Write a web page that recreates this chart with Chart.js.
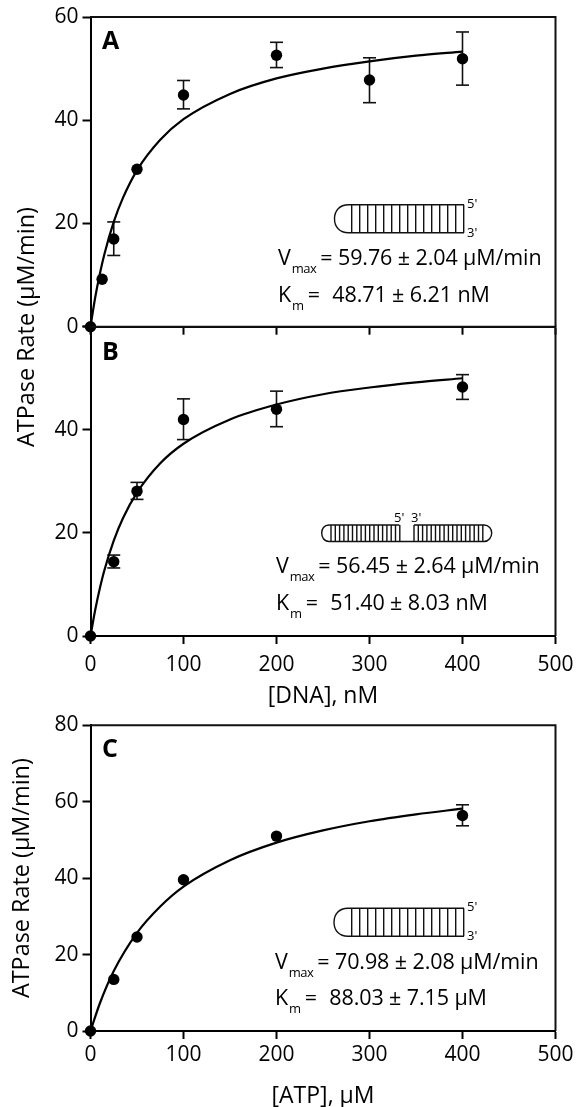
<!DOCTYPE html>
<html>
<head>
<meta charset="utf-8">
<title>ATPase rate</title>
<script src="https://cdn.jsdelivr.net/npm/chart.js@4"></script>
<style>
  html, body { margin: 0; padding: 0; background: #fff; }
  #page { position: relative; width: 577px; height: 1107px; overflow: hidden; font-family: "Open Sans", sans-serif; color: #000; }
  canvas { position: absolute; left: 0; }
  .note, .letter, .end, .ylabel { position: absolute; white-space: nowrap; }
  .note { font-size: 21.5px; line-height: 24px; letter-spacing: -0.1px; }
  .note .sub { font-size: 13px; position: relative; top: 8px; letter-spacing: -0.5px; margin: 0 4px 0 1px; }
  .note .gap { display: inline-block; width: 7px; }
  .letter { font-size: 25px; font-weight: 700; line-height: 30px; }
  .end { font-size: 13px; line-height: 16px; }
  .ylabel { font-size: 23.4px; line-height: 28px; transform: translate(-50%, -50%) rotate(-90deg); }
  svg { position: absolute; left: 0; top: 0; }
</style>
</head>
<body>
<div id="page">
  <canvas id="panelA" width="582" height="345" style="top:0"></canvas>
  <canvas id="panelB" width="582" height="410" style="top:300px"></canvas>
  <canvas id="panelC" width="582" height="410" style="top:700px"></canvas>
  <svg id="hairpins" width="577" height="1107"></svg>

  <div class="ylabel" style="left:25px;top:327px">ATPase Rate (μM/min)</div>

  <div class="letter" style="left:102px;top:24px">A</div>
  <div class="letter" style="left:102px;top:335px">B</div>
  <div class="letter" style="left:102px;top:732px">C</div>

  <div class="end" style="left:467px;top:195px">5'</div>
  <div class="end" style="left:467px;top:224px">3'</div>
  <div class="end" style="left:394px;top:509px">5'&nbsp;&nbsp;3'</div>
  <div class="end" style="left:467px;top:898px">5'</div>
  <div class="end" style="left:467px;top:927px">3'</div>

  <div class="note" style="left:278px;top:245px">V<span class="sub">max</span>= 59.76 ± 2.04 μM/min</div>
  <div class="note" style="left:278px;top:282px">K<span class="sub">m</span>=<span class="gap"></span>&nbsp;48.71 ± 6.21 nM</div>
  <div class="note" style="left:276px;top:553px">V<span class="sub">max</span>= 56.45 ± 2.64 μM/min</div>
  <div class="note" style="left:276px;top:590px">K<span class="sub">m</span>=<span class="gap"></span>&nbsp;51.40 ± 8.03 nM</div>
  <div class="note" style="left:275px;top:949px">V<span class="sub">max</span>= 70.98 ± 2.08 μM/min</div>
  <div class="note" style="left:275px;top:985px">K<span class="sub">m</span>=<span class="gap"></span>&nbsp;88.03 ± 7.15 μM</div>
</div>

<script>
const xTicks = [0, 100, 200, 300, 400, 500]

// panel A, DNA hairpin
const aDoses = [0, 12.5, 25, 50, 100, 200, 300, 400]
const aRates = [0, 9.2, 17.0, 30.5, 44.9, 52.6, 47.8, 51.9]
const aLow = [null, null, 13.8, null, 42.2, 50.2, 43.4, 46.8]
const aHigh = [null, null, 20.3, null, 47.7, 55.1, 52.1, 57.1]
const aCurveX = [0, 5, 10, 15, 25, 35, 50, 75, 100, 150, 200, 250, 300, 350, 400]
const aCurveY = [0, 5.6, 10.2, 14.1, 20.3, 25.0, 30.3, 36.2, 40.2, 45.1, 48.1, 50.0, 51.4, 52.5, 53.3]

// panel B, nicked DNA
const bDoses = [0, 25, 50, 100, 200, 400]
const bRates = [0, 14.4, 28.1, 42.0, 44.0, 48.3]
const bLow = [null, 13.2, 26.5, 38.1, 40.6, 45.9]
const bHigh = [null, 15.7, 29.8, 46.0, 47.5, 50.7]
const bCurveX = [0, 5, 10, 15, 25, 35, 50, 75, 100, 150, 200, 250, 300, 350, 400]
const bCurveY = [0, 5.0, 9.2, 12.8, 18.5, 22.9, 27.8, 33.5, 37.3, 42.0, 44.9, 46.9, 48.2, 49.2, 50.0]

// panel C, ATP
const cDoses = [0, 25, 50, 100, 200, 400]
const cRates = [0, 13.5, 24.6, 39.6, 51.0, 56.4]
const cLow = [null, null, null, null, null, 53.7]
const cHigh = [null, null, null, null, null, 59.2]
const cCurveX = [0, 10, 25, 50, 75, 100, 150, 200, 250, 300, 350, 400]
const cCurveY = [0, 7.2, 15.7, 25.7, 32.6, 37.8, 44.7, 49.3, 52.5, 54.9, 56.7, 58.2]

Chart.defaults.font.family = '"Open Sans", sans-serif'
Chart.defaults.color = '#000'

const frame = {
  id: 'frame',
  afterDraw(chart) {
    const { ctx, chartArea: a } = chart
    ctx.save()
    ctx.strokeStyle = '#111'
    ctx.lineWidth = 2
    ctx.beginPath()
    ctx.moveTo(a.left, a.top)
    ctx.lineTo(a.right, a.top)
    ctx.lineTo(a.right, a.bottom)
    ctx.stroke()
    ctx.restore()
  }
}

const toPoints = (xs, ys) => xs.map((x, i) => ({ x, y: ys[i] }))

// pairs of low/high with a null between them so the line breaks
const errorPoints = (xs, low, high) => {
  const out = []
  xs.forEach((x, i) => {
    if (low[i] === null) return
    out.push({ x, y: low[i] }, { x, y: high[i] }, { x, y: null })
  })
  return out
}

const makePanel = (id, p) => new Chart(document.getElementById(id), {
  type: 'line',
  plugins: [frame],
  data: {
    datasets: [
      {
        data: toPoints(p.doses, p.rates),
        showLine: false,
        pointRadius: 5.7,
        pointBackgroundColor: '#000',
        pointBorderWidth: 0,
        clip: false
      },
      {
        data: toPoints(p.curveX, p.curveY),
        borderColor: '#000',
        borderWidth: 2.2,
        pointRadius: 0,
        cubicInterpolationMode: 'monotone',
        clip: false
      },
      {
        data: errorPoints(p.doses, p.low, p.high),
        borderColor: '#111',
        borderWidth: 1.6,
        spanGaps: false,
        pointStyle: 'line',
        pointRadius: 6.5,
        pointBorderColor: '#111',
        pointBorderWidth: 1.6,
        clip: false
      }
    ]
  },
  options: {
    responsive: false,
    animation: false,
    // canvas is a bit wider than the page so the "500" label never squeezes the plot
    layout: { padding: { top: p.top, left: 0, right: 26.5, bottom: 0 } },
    plugins: { legend: { display: false }, tooltip: { enabled: false } },
    scales: {
      x: {
        type: 'linear',
        min: 0,
        max: 500,
        afterBuildTicks: scale => { scale.ticks = xTicks.map(value => ({ value })) },
        afterFit: scale => { scale.height = p.xHeight },
        border: { color: '#000', width: 2 },
        grid: { drawOnChartArea: false, tickLength: 8, tickWidth: 2, tickColor: '#000' },
        ticks: {
          font: { size: 21 },
          padding: p.xPad || 0,
          maxRotation: 0,
          callback: v => (p.xTitle ? v : '')
        },
        title: {
          display: !!p.xTitle,
          text: p.xTitle,
          font: { size: 23 },
          padding: 0
        }
      },
      y: {
        min: 0,
        max: p.yMax,
        afterFit: scale => { scale.width = 90.5 },
        border: { color: '#000', width: 2 },
        grid: { drawOnChartArea: false, tickLength: 8, tickWidth: 2, tickColor: '#000' },
        ticks: {
          stepSize: 20,
          font: { size: 21 },
          padding: 4,
          callback: v => (p.hideTop && v === p.yMax ? '' : v)
        },
        title: {
          display: !!p.yTitle,
          text: p.yTitle,
          font: { size: 23.4 },
          padding: { top: 8, bottom: 0 }
        }
      }
    }
  }
})

makePanel('panelA', { doses: aDoses, rates: aRates, low: aLow, high: aHigh, curveX: aCurveX, curveY: aCurveY, yMax: 60, top: 17, xHeight: 18.3 })
makePanel('panelB', { doses: bDoses, rates: bRates, low: bLow, high: bHigh, curveX: bCurveX, curveY: bCurveY, yMax: 60, top: 26.7, xHeight: 74, xPad: 8, hideTop: true, xTitle: '[DNA], nM' })
makePanel('panelC', { doses: cDoses, rates: cRates, low: cLow, high: cHigh, curveX: cCurveX, curveY: cCurveY, yMax: 80, top: 25.3, xHeight: 79, xPad: 3, xTitle: '[ATP], μM', yTitle: 'ATPase Rate (μM/min)' })

// duplex cartoons
const svg = document.getElementById('hairpins')
const addPath = d => {
  const el = document.createElementNS('http://www.w3.org/2000/svg', 'path')
  el.setAttribute('d', d)
  el.setAttribute('fill', 'none')
  el.setAttribute('stroke', '#111')
  el.setAttribute('stroke-width', '1.4')
  svg.appendChild(el)
}
const hairpin = (left, top, bottom) => {
  const r = (bottom - top) / 2
  const straight = left + 14
  let d = `M464 ${top}H${straight}C${left + 5} ${top} ${left} ${top + r - 8} ${left} ${top + r}C${left} ${top + r + 8} ${left + 5} ${bottom} ${straight} ${bottom}H464`
  for (let x = 351.7; x < 465; x += 8) d += `M${x} ${top}V${bottom}`
  addPath(d)
}
hairpin(334.5, 204.7, 232.7)
hairpin(334, 908.3, 936.3)

let nicked = 'M399.3 525H329C324 525 321.7 529 321.7 533S324 541.5 329 541.5H484C489 541.5 491.7 537 491.7 533S489 525 484 525H414'
for (let x = 331; x < 400; x += 4.3) nicked += `M${x} 525V541.5`
for (let x = 414; x < 485; x += 4.3) nicked += `M${x} 525V541.5`
addPath(nicked)
</script>
</body>
</html>
